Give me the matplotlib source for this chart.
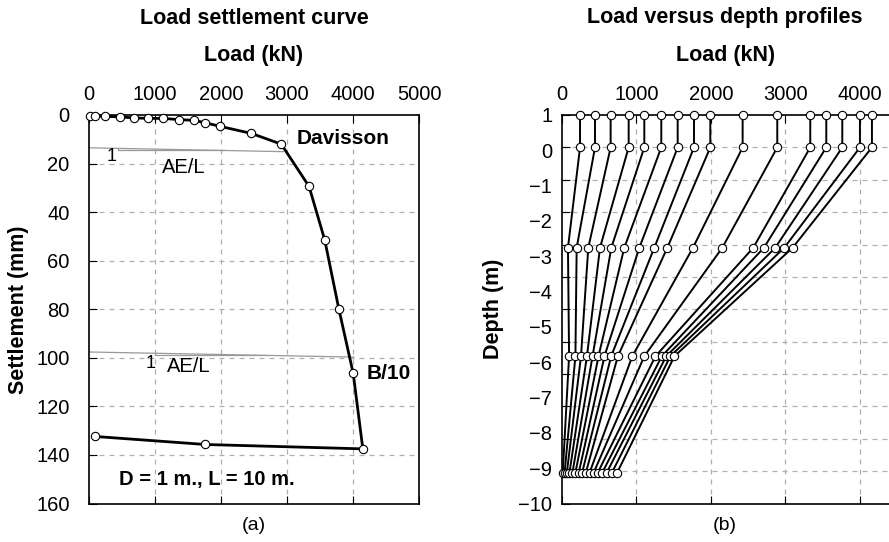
import numpy as np
import matplotlib
matplotlib.use("Agg")
import matplotlib.pyplot as plt

plt.rcParams['font.family'] = ['Liberation Sans', 'DejaVu Sans']

# (a) load settlement curve
load_a = [10, 87, 239, 477, 684, 897, 1125, 1363, 1586, 1763, 1991, 2462, 2913,
          3334, 3572, 3784, 4003, 4149, 1763, 97]
settle_a = [0.3, 0.3, 0.55, 0.8, 1.2, 1.4, 1.4, 1.9, 2.2, 3.2, 4.7, 7.6, 12.0,
            29.4, 51.5, 79.7, 106.4, 137.5, 135.7, 132.4]

# elastic (AE/L) offset lines: Davisson and B/10
davisson_load = [0, 2948]
davisson_settle = [13.5, 15.1]
b10_load = [0, 4014]
b10_settle = [97.6, 99.7]

# (b) load versus depth profiles, one list of loads per gauge level
depths = [1, 0, -3.1, -6.45, -10.05]
load_head = [242, 443, 653, 895, 1105, 1333, 1553, 1772, 1991, 2425, 2890,
             3333, 3548, 3763, 4000, 4161]
load_0 = load_head
load_3 = [80, 197, 353, 510, 662, 836, 1038, 1239, 1414, 1758, 2152, 2568,
          2711, 2863, 2984, 3096]
load_6 = [95, 180, 255, 335, 410, 490, 570, 660, 750, 944, 1105, 1255, 1340,
          1400, 1455, 1510]
load_10 = [10, 35, 65, 100, 140, 180, 225, 270, 320, 370, 425, 480, 540, 600,
           670, 740]
depth_labels = ['1', '0', '−1', '−2', '−3', '−4', '−5', '−6', '−7', '−8', '−9', '−10']

W, H = 889, 542
fig = plt.figure(figsize=(W / 100, H / 100), dpi=100)

def px_axes(x0, x1, y0, y1):
    return fig.add_axes([x0 / W, 1 - y1 / H, (x1 - x0) / W, (y1 - y0) / H])

grid_kw = dict(color='#b0b0b0', linestyle=(0, (4, 4)), linewidth=0.9)
mk = dict(marker='o', markersize=6, markerfacecolor='white',
          markeredgecolor='black', markeredgewidth=0.8, clip_on=False)

# ---- panel (a)
ax1 = px_axes(89, 419, 115, 503.5)
ax1.plot(davisson_load, davisson_settle, color='#999999', lw=0.9)
ax1.plot([445, 445, 2040], [13.9, 14.6, 14.6], color='#999999', lw=0.9)
ax1.plot(b10_load, b10_settle, color='#999999', lw=0.9)
ax1.plot([1000, 1000, 2695], [98.3, 98.8, 98.8], color='#999999', lw=0.9)
ax1.plot(load_a, settle_a, color='black', lw=2.0, zorder=5, **mk)
ax1.set_xlim(0, 5000)
ax1.set_ylim(160, 0)
ax1.set_xticks(np.arange(0, 5001, 1000))
ax1.set_yticks(np.arange(0, 161, 20))
ax1.xaxis.tick_top()
ax1.xaxis.set_label_position('top')
ax1.tick_params(axis='x', which='major', direction='in', top=True, bottom=True,
                length=6, labelsize=14.5, pad=8)
ax1.tick_params(axis='y', which='major', direction='in', left=True, right=False,
                length=6, labelsize=14.5, pad=14)
ax1.set_xlabel('Load (kN)', fontsize=15.5, fontweight='bold', labelpad=17)
ax1.set_ylabel('Settlement (mm)', fontsize=15.5, fontweight='bold', labelpad=5)
for v in range(1000, 5000, 1000):
    ax1.axvline(v, **grid_kw, zorder=0)
for h in range(20, 160, 20):
    ax1.axhline(h, **grid_kw, zorder=0)
ax1.text(340, 17.2, '1', fontsize=13, ha='center', va='center')
ax1.text(1100, 21.5, 'AE/L', fontsize=14.5, va='center')
ax1.text(930, 102.5, '1', fontsize=13, ha='center', va='center')
ax1.text(1180, 103.5, 'AE/L', fontsize=14.5, va='center')
ax1.text(3150, 9.5, 'Davisson', fontsize=15, fontweight='bold', va='center')
ax1.text(4200, 106.5, 'B/10', fontsize=15, fontweight='bold', va='center')
ax1.text(450, 150, 'D = 1 m., L = 10 m.', fontsize=14.5, fontweight='bold', va='center')
for s in ax1.spines.values():
    s.set_linewidth(1.2)

# ---- panel (b)
ax2 = px_axes(562, 889, 115, 503.5)
profiles = np.array([load_head, load_0, load_3, load_6, load_10]).T
for prof in profiles:
    ax2.plot(prof, depths, color='black', lw=1.4, zorder=5, **mk)
ax2.set_xlim(0, 4390)
ax2.set_ylim(-11, 1)
ax2.set_xticks(np.arange(0, 4001, 1000))
ax2.set_yticks(np.arange(-11, 2, 1))
ax2.set_yticklabels([])
# the printed depth labels are spread evenly over the full height
ax2.yaxis.remove_overlapping_locs = False
ax2.set_yticks([round(1 - k * 12 / 11, 6) for k in range(12)], depth_labels, minor=True)
ax2.xaxis.tick_top()
ax2.xaxis.set_label_position('top')
ax2.tick_params(axis='x', which='major', direction='in', top=True, bottom=True,
                length=6, labelsize=14.5, pad=8)
ax2.tick_params(axis='y', which='major', direction='in', left=True, right=False,
                length=6)
ax2.tick_params(axis='y', which='minor', length=0, labelsize=14.5, pad=7)
ax2.set_xlabel('Load (kN)', fontsize=15.5, fontweight='bold', labelpad=17)
ax2.set_ylabel('Depth (m)', fontsize=15.5, fontweight='bold', labelpad=10)
for v in range(1000, 5000, 1000):
    ax2.axvline(v, **grid_kw, zorder=0)
for h in range(0, -11, -1):
    ax2.axhline(h, **grid_kw, zorder=0)
ax2.spines['right'].set_visible(False)
for s in ax2.spines.values():
    s.set_linewidth(1.2)

# titles and captions
fig.text(254 / W, 1 - 18 / H, 'Load settlement curve', fontsize=15.5,
         fontweight='bold', ha='center', va='center')
fig.text(725 / W, 1 - 18 / H, 'Load versus depth profiles', fontsize=15.5,
         fontweight='bold', ha='center', va='center')
fig.text(254 / W, 1 - 525 / H, '(a)', fontsize=14, ha='center', va='center')
fig.text(725 / W, 1 - 525 / H, '(b)', fontsize=14, ha='center', va='center')

fig.savefig('out.png', dpi=100)
